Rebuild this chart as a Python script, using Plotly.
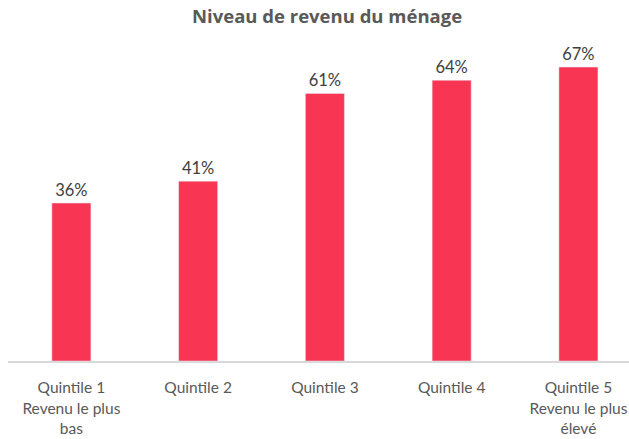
import plotly.graph_objects as go

categories = ["Quintile 1<br>Revenu le plus<br>bas", "Quintile 2", "Quintile 3", "Quintile 4", "Quintile 5<br>Revenu le plus<br>élevé"]
values = [36, 41, 61, 64, 67]
labels = ["36%", "41%", "61%", "64%", "67%"]

fig = go.Figure()
fig.add_trace(go.Bar(
    x=list(range(len(categories))),
    y=values,
    text=labels,
    textposition="outside",
    textfont=dict(family="Lato, Open Sans, sans-serif", size=16.5, color="#404040"),
    marker=dict(color="#F83552"),
    width=0.308,
    cliponaxis=False,
))

fig.update_layout(
    width=629, height=439,
    margin=dict(l=8, r=0, t=40, b=78),
    paper_bgcolor="white", plot_bgcolor="white",
    showlegend=False,
    title=dict(text="<b>Niveau de revenu du ménage</b>", x=0.52, xanchor="center", y=0.962, yanchor="middle",
               font=dict(family="Open Sans, sans-serif", size=18.5, color="#595959")),
    xaxis=dict(range=[-0.5, 4.399], tickmode="array", tickvals=list(range(len(categories))), ticktext=categories,
               showgrid=False, zeroline=False, showline=True, linecolor="#D9D9D9", linewidth=1.5,
               ticks="", automargin=False, ticklabelstandoff=12,
               tickfont=dict(family="Lato, Open Sans, sans-serif", size=15.5, color="#595959")),
    yaxis=dict(range=[0, 73.17], visible=False, showgrid=False, zeroline=False),
)

fig.write_html("out.html", config={"displayModeBar": False},
               post_script="document.body.style.margin='0';")
